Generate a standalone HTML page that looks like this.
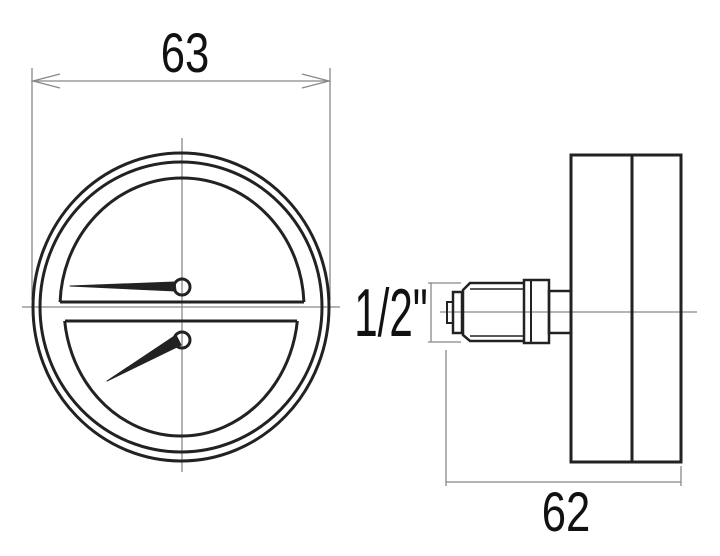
<!DOCTYPE html>
<html><head><style>html,body{margin:0;padding:0;background:#fff;width:720px;height:556px;overflow:hidden}</style></head>
<body>
<svg width="720" height="556" viewBox="0 0 720 556" xmlns="http://www.w3.org/2000/svg">
<defs>
<clipPath id="up"><rect x="0" y="0" width="400" height="302"/></clipPath>
<clipPath id="dn"><rect x="0" y="321" width="400" height="200"/></clipPath>
</defs>
<g stroke="#888" stroke-width="1.3" fill="none">
<line x1="32" y1="68" x2="32" y2="300"/>
<line x1="330" y1="68" x2="330" y2="300"/>
<line x1="32" y1="81" x2="330" y2="81"/>
<polyline points="60,74 33,81 60,88"/>
<polyline points="302,74 329,81 302,88"/>
<line x1="182" y1="138" x2="182" y2="472"/>
<line x1="22" y1="307" x2="340" y2="307"/>
<line x1="440" y1="312" x2="697" y2="312"/>
<line x1="431" y1="283" x2="431" y2="342"/>
<line x1="428" y1="283" x2="461" y2="283"/>
<line x1="428" y1="342" x2="461" y2="342"/>
<line x1="446" y1="350" x2="446" y2="486"/>
<line x1="681" y1="466" x2="681" y2="486"/>
<line x1="446" y1="482" x2="681" y2="482"/>
</g>
<g stroke="#222" stroke-width="3" fill="none">
<ellipse cx="181" cy="307" rx="148" ry="154"/>
<ellipse cx="181" cy="307" rx="141" ry="145"/>
<ellipse cx="182" cy="307" rx="122" ry="129" clip-path="url(#up)"/>
<line x1="60" y1="302" x2="304" y2="302"/>
<ellipse cx="181" cy="307" rx="117" ry="129" clip-path="url(#dn)"/>
<line x1="65" y1="321" x2="297" y2="321"/>
<circle cx="182" cy="287" r="8"/>
<circle cx="182" cy="340" r="8"/>
<rect x="571" y="155" width="110" height="307"/>
<line x1="632" y1="155" x2="632" y2="462"/>
<rect x="549" y="291" width="22" height="42" stroke-width="2.5"/>
<rect x="524" y="280" width="25" height="63" stroke-width="2.5"/>
<line x1="531" y1="281" x2="531" y2="342" stroke-width="2"/>
<path d="M524,283 L470,283 L463,290 L463,335 L470,341 L524,341" stroke-width="2.5"/>
<line x1="470" y1="289" x2="524" y2="289" stroke-width="1.5"/>
<line x1="470" y1="336" x2="524" y2="336" stroke-width="1.5"/>
<rect x="453" y="292" width="9" height="41" stroke-width="2.5"/>
<rect x="447" y="302" width="6" height="21" stroke-width="2"/>
</g>
<g fill="#222" stroke="#222" stroke-width="1" stroke-linejoin="round">
<path d="M70,286 L175,282 L176,291 Z"/>
<path d="M107,381 L176,335 L181,345 Z"/>
</g>
<g font-family="Liberation Sans, sans-serif" fill="#111">
<text x="185" y="72" font-size="56" text-anchor="middle" transform="translate(185 0) scale(0.78 1) translate(-185 0)">63</text>
<text x="566" y="531" font-size="56" text-anchor="middle" transform="translate(566 0) scale(0.78 1) translate(-566 0)">62</text>
<text x="391" y="336" font-size="68" text-anchor="middle" transform="translate(391 0) scale(0.62 1) translate(-391 0)">1/2"</text>
</g>
</svg>
</body></html>
